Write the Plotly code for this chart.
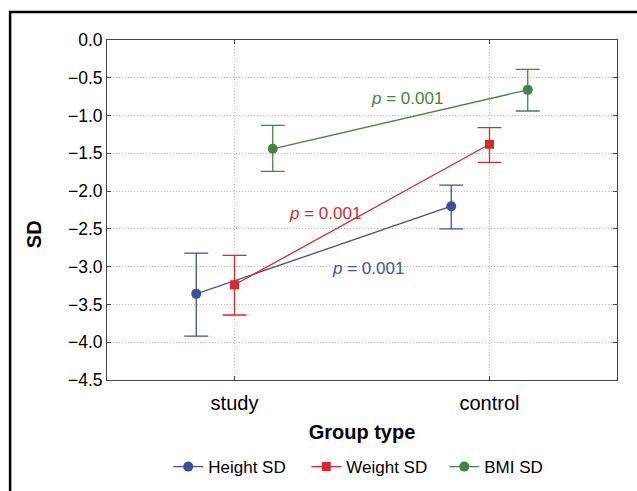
import plotly.graph_objects as go

categories = ["study", "control"]
series_names = ["Height SD", "Weight SD", "BMI SD"]

height_mean = [-3.36, -2.20]
height_upper = [-2.82, -1.92]
height_lower = [-3.92, -2.50]

weight_mean = [-3.24, -1.38]
weight_upper = [-2.85, -1.16]
weight_lower = [-3.64, -1.62]

bmi_mean = [-1.44, -0.66]
bmi_upper = [-1.13, -0.39]
bmi_lower = [-1.74, -0.94]

p_labels = ["p = 0.001", "p = 0.001", "p = 0.001"]

colors = ["#3F4FA0", "#D42A2E", "#458245"]
symbols = ["circle", "square", "circle"]
offsets = [-0.15, 0.0, 0.15]

FONT = "Liberation Sans, Arial, sans-serif"

fig = go.Figure()
data = [
    (height_mean, height_upper, height_lower),
    (weight_mean, weight_upper, weight_lower),
    (bmi_mean, bmi_upper, bmi_lower),
]
for i, (m, u, l) in enumerate(data):
    xs = [k + offsets[i] for k in range(len(categories))]
    fig.add_trace(go.Scatter(
        x=xs, y=m, name=series_names[i], mode="lines+markers",
        line=dict(color=colors[i], width=1.3),
        marker=dict(symbol=symbols[i], size=10 if symbols[i] == "circle" else 9, color=colors[i]),
        error_y=dict(type="data", symmetric=False,
                     array=[a - b for a, b in zip(u, m)],
                     arrayminus=[b - c for b, c in zip(m, l)],
                     color=colors[i], thickness=1.3, width=12),
    ))

# p-value annotations (placed between the two groups)
ann_pos = [(0.524, -3.02), (0.355, -2.29), (0.676, -0.77)]
for i, (ax, ay) in enumerate(ann_pos):
    txt = "<i>p</i>" + p_labels[i][1:]
    fig.add_annotation(x=ax, y=ay, xref="x", yref="y", text=txt, showarrow=False,
                       xanchor="center", yanchor="middle",
                       font=dict(family=FONT, size=17, color=colors[i]))

# y-axis title
fig.add_annotation(x=-0.143, y=0.429, xref="paper", yref="paper", text="<b>SD</b>",
                   textangle=-90, showarrow=False, xanchor="center", yanchor="middle",
                   font=dict(family=FONT, size=20, color="black"))

fig.update_layout(
    width=637, height=491,
    margin=dict(l=107, r=20, t=40, b=111, autoexpand=False),
    paper_bgcolor="white", plot_bgcolor="white",
    font=dict(family=FONT, color="black"),
    showlegend=True,
    legend=dict(orientation="h", x=0.526, xanchor="center", y=-0.256, yanchor="middle",
                font=dict(family=FONT, size=17, color="black"), itemwidth=30,
                entrywidth=93, entrywidthmode="pixels"),
    shapes=[dict(type="rect", xref="paper", yref="paper",
                 x0=-0.19, x1=1.2, y0=-0.5, y1=1.0824,
                 line=dict(color="black", width=2.5), layer="above")],
)
fig.update_xaxes(
    range=[-0.5, 1.5], tickvals=[0, 1], ticktext=categories,
    showgrid=True, gridcolor="#bdbdbd", griddash="1px,2px", gridwidth=1,
    showline=True, linecolor="#444", linewidth=1, mirror="ticks",
    ticks="inside", ticklen=4, tickcolor="#444", ticklabelstandoff=5,
    tickfont=dict(family=FONT, size=20, color="black"),
    title=dict(text="<b>Group type</b>", font=dict(family=FONT, size=20, color="black"), standoff=11),
    zeroline=False, automargin=False,
)
fig.update_yaxes(
    range=[-4.5, 0], dtick=0.5, tick0=0, tickformat=".1f",
    showgrid=True, gridcolor="#bdbdbd", griddash="1px,2px", gridwidth=1,
    showline=True, linecolor="#444", linewidth=1, mirror="ticks",
    ticks="inside", ticklen=4, tickcolor="#444",
    tickfont=dict(family=FONT, size=17.5, color="black"),
    zeroline=False, automargin=False,
)

fig.write_html("out.html", config={"displayModeBar": False},
               post_script="document.body.style.margin='0';")
